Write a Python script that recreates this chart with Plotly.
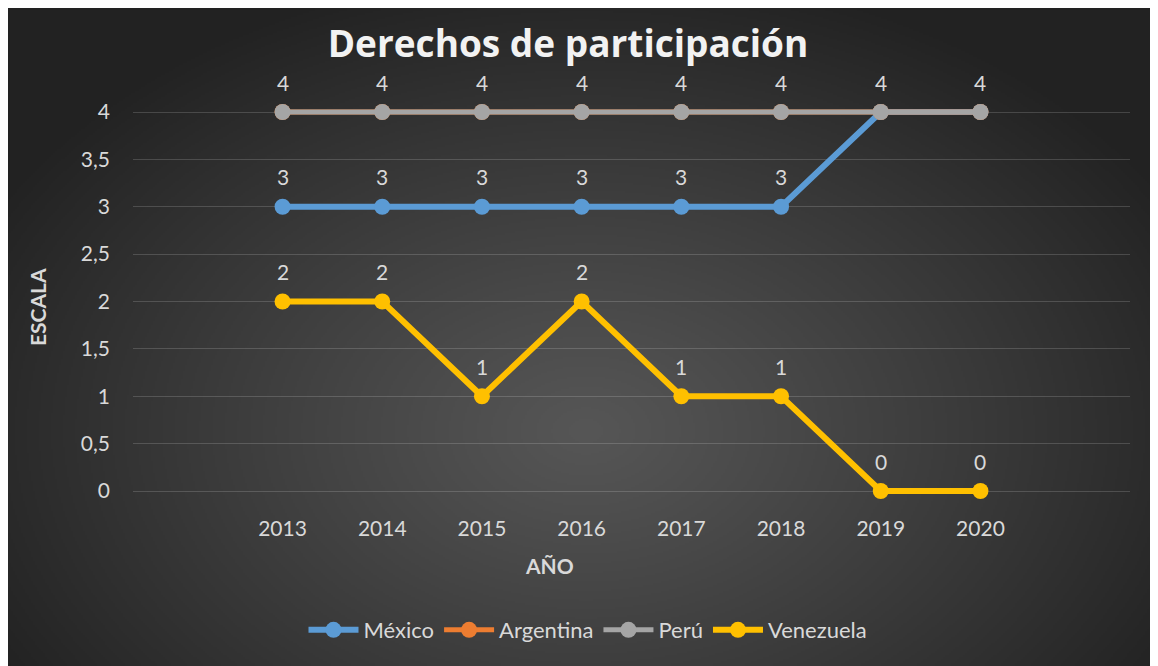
import numpy as np
import zlib, struct, base64
import plotly.graph_objects as go

# ---------------- data ----------------
years = ["2013", "2014", "2015", "2016", "2017", "2018", "2019", "2020"]
mexico = [3, 3, 3, 3, 3, 3, 4, 4]
argentina = [4, 4, 4, 4, 4, 4, 4, 4]
peru = [4, 4, 4, 4, 4, 4, 4, 4]
venezuela = [2, 2, 1, 2, 1, 1, 0, 0]
y_ticks = [0, 0.5, 1, 1.5, 2, 2.5, 3, 3.5, 4]
y_tick_text = ["0", "0,5", "1", "1,5", "2", "2,5", "3", "3,5", "4"]

# page has 8px body margin; figure coords = reference coords - 8
OFF = 8
W, H = 1150, 658

def fx(x):
    return (x - OFF) / W

def fy(y):
    return 1 - (y - OFF) / H

# ---------------- background gradient image ----------------
def png_uri(arr):
    h, w, _ = arr.shape
    raw = b"".join(b"\x00" + arr[i].tobytes() for i in range(h))
    def chunk(t, d):
        return struct.pack(">I", len(d)) + t + d + struct.pack(">I", zlib.crc32(t + d) & 0xFFFFFFFF)
    ihdr = struct.pack(">IIBBBBB", w, h, 8, 2, 0, 0, 0)
    png = b"\x89PNG\r\n\x1a\n" + chunk(b"IHDR", ihdr) + chunk(b"IDAT", zlib.compress(raw, 9)) + chunk(b"IEND", b"")
    return "data:image/png;base64," + base64.b64encode(png).decode()

sc = 2
gw, gh = W // sc, H // sc
yy, xx = np.mgrid[0:gh, 0:gw].astype(float)
px = xx * sc + OFF
py = yy * sc + OFF
cx, cy = 585, 430
t = np.sqrt(((px - cx) / 680.0) ** 2 + ((py - cy) / 470.0) ** 2)
t = np.clip(t, 0, 1)
inner, outer = 86, 34
val = inner + (outer - inner) * t ** 1.1
img = np.repeat(val[:, :, None], 3, axis=2).astype(np.uint8)
bg_uri = png_uri(img)

# ---------------- figure ----------------
FONT = "Lato"
LBL = "#d9d9d9"

series = [
    ("México", mexico, "#5B9BD5", 6),
    ("Argentina", argentina, "#ED7D31", 5),
    ("Perú", peru, "#A5A5A5", 5),
    ("Venezuela", venezuela, "#FFC000", 6),
]

fig = go.Figure()
for name, vals, col, lw in series:
    fig.add_trace(go.Scatter(
        x=years, y=vals, name=name, mode="lines+markers",
        line=dict(color=col, width=lw),
        marker=dict(color=col, size=16),
        cliponaxis=False,
    ))

# data labels (x given as category index)
annotations = []
seen = set()
for name, vals, col, lw in series:
    if name == "Argentina":
        continue
    for i, v in enumerate(vals):
        if (i, v) in seen:
            continue
        seen.add((i, v))
        annotations.append(dict(
            x=i, y=v, xref="x", yref="y", text=str(v), showarrow=False,
            yshift=30, font=dict(family=FONT, size=21, color=LBL),
        ))

# axis titles
annotations.append(dict(
    x=fx(37), y=fy(307), xref="paper", yref="paper", text="<b>ESCALA</b>",
    textangle=-90, showarrow=False, xanchor="center", yanchor="middle",
    font=dict(family=FONT, size=21, color=LBL),
))
annotations.append(dict(
    x=fx(549), y=fy(565), xref="paper", yref="paper", text="<b>AÑO</b>",
    showarrow=False, xanchor="center", yanchor="middle",
    font=dict(family=FONT, size=21, color=LBL),
))

pad = 0.05
ppu = (491 - 112) / 4.0
y_bot = 491 + pad * ppu
y_top = 112 - pad * ppu

fig.update_layout(
    width=W, height=H,
    margin=dict(l=0, r=0, t=0, b=0),
    paper_bgcolor="#262626",
    plot_bgcolor="rgba(0,0,0,0)",
    images=[dict(
        source=bg_uri, xref="paper", yref="paper",
        x=0, y=1, sizex=1, sizey=1,
        xanchor="left", yanchor="top", sizing="stretch", layer="below",
    )],
    title=dict(
        text="<b>Derechos de participación</b>",
        x=fx(568), y=fy(44), xanchor="center", yanchor="middle",
        xref="paper", yref="paper",
        font=dict(family="Open Sans", size=37, color="#f2f2f2"),
    ),
    xaxis=dict(
        domain=[fx(133), fx(1130)],
        type="category",
        range=[-1.5, 8.5],
        showgrid=False, zeroline=False, showline=False,
        ticks="", ticklabelstandoff=18, automargin=False,
        tickfont=dict(family=FONT, size=21, color=LBL),
    ),
    yaxis=dict(
        domain=[fy(y_bot), fy(y_top)],
        range=[-pad, 4 + pad],
        tickvals=y_ticks, ticktext=y_tick_text,
        showgrid=True, gridcolor="rgba(255,255,255,0.16)", gridwidth=1.3,
        zeroline=False, showline=False,
        ticks="", ticklabelstandoff=22, automargin=False,
        tickfont=dict(family=FONT, size=21, color=LBL),
    ),
    legend=dict(
        orientation="h", x=fx(588), y=fy(630),
        xanchor="center", yanchor="middle",
        font=dict(family=FONT, size=22, color=LBL),
        bgcolor="rgba(0,0,0,0)", itemwidth=50,
    ),
    annotations=annotations,
    showlegend=True,
)

fig.write_html("out.html")
